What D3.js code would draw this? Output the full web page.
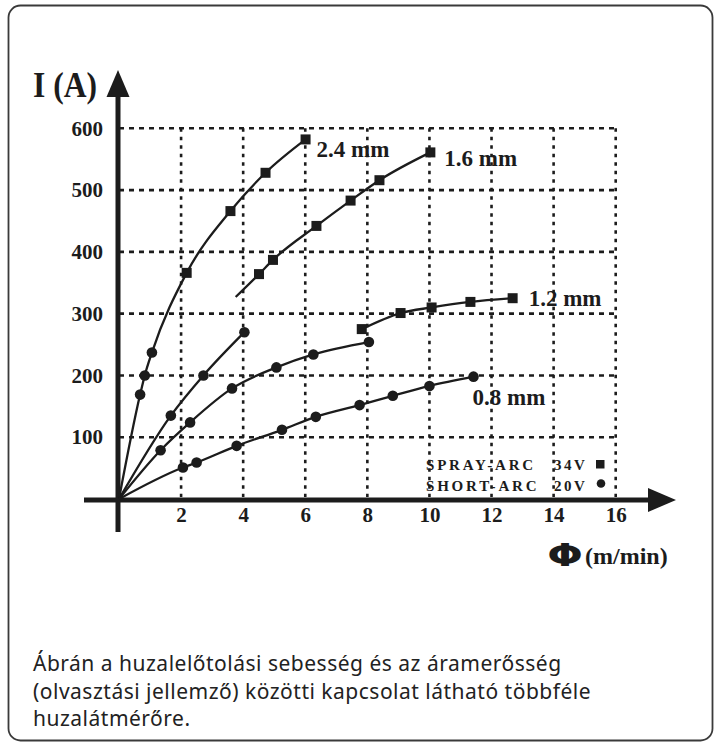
<!DOCTYPE html>
<html>
<head>
<meta charset="utf-8">
<script src="https://cdn.jsdelivr.net/npm/d3@7"></script>
<style>
  body { margin: 0; background: #fff; }
  svg { display: block; }
</style>
</head>
<body>
<svg id="chart" width="719" height="746"></svg>
<script>
// tick values
var xTicks = [2, 4, 6, 8, 10, 12, 14, 16];
var yTicks = [100, 200, 300, 400, 500, 600];

// wire feed speed (m/min), current (A)
// short-arc (20V) points = circles, spray-arc (34V) points = squares
var shortArc24 = [[0.68, 169], [0.83, 200], [1.06, 237]];
var sprayArc24 = [[2.18, 366], [3.59, 466], [4.72, 528], [6.01, 582]];

var shortArc16 = [[1.67, 135], [2.72, 200], [4.04, 270]];
var sprayStart16 = [3.76, 327];
var sprayArc16 = [[4.51, 364], [4.96, 387], [6.36, 442], [7.46, 483], [8.39, 516], [10.03, 561]];

var shortArc12 = [[1.34, 79], [2.29, 124], [3.64, 179], [5.07, 213], [6.26, 234], [8.05, 254]];
var sprayArc12 = [[7.82, 275], [9.07, 301], [10.07, 310], [11.32, 319], [12.68, 325]];

var shortArc08 = [[2.06, 51], [2.50, 59], [3.79, 86], [5.25, 112], [6.34, 133], [7.75, 152],
                  [8.82, 167], [10.0, 183], [11.42, 198]];

var origin = [0, 0];
var wireLabels = ["2.4 mm", "1.6 mm", "1.2 mm", "0.8 mm"];
var legendNames = ["SPRAY-ARC", "SHORT-ARC"];
var legendVolts = ["34V", "20V"];
var captionLines = [
  "Ábrán a huzalelőtolási sebesség és az áramerősség",
  "(olvasztási jellemző) közötti kapcsolat látható többféle",
  "huzalátmérőre."
];

var svg = d3.select("#chart");
var ink = "#1c1c1c";
var serif = "'Liberation Serif', 'DejaVu Serif', serif";

// card frame
svg.append("rect")
  .attr("x", 8.5).attr("y", 5.5)
  .attr("width", 704).attr("height", 735)
  .attr("rx", 12)
  .attr("fill", "#fff")
  .attr("stroke", "#3a3a3a")
  .attr("stroke-width", 1.8);

var x = d3.scaleLinear().domain([0, 16]).range([119, 615.7]);
var y = d3.scaleLinear().domain([0, 600]).range([499, 128.3]);

// grid
var grid = svg.append("g");
grid.selectAll("line.h")
  .data(yTicks)
  .enter().append("line")
    .attr("x1", x(0)).attr("x2", x(16))
    .attr("y1", d => y(d)).attr("y2", d => y(d))
    .attr("stroke", ink)
    .attr("stroke-width", 2.6)
    .attr("stroke-dasharray", "5,5");
grid.selectAll("line.v")
  .data(xTicks)
  .enter().append("line")
    .attr("x1", d => x(d)).attr("x2", d => x(d))
    .attr("y1", y(600)).attr("y2", 497)
    .attr("stroke", ink)
    .attr("stroke-width", 2.6)
    .attr("stroke-dasharray", "3.5,5");

// axes with arrows
svg.append("line")
  .attr("x1", 84).attr("x2", 652)
  .attr("y1", 500).attr("y2", 500)
  .attr("stroke", ink).attr("stroke-width", 5);
svg.append("path")
  .attr("d", "M648,488 L676,500 L648,512 Z")
  .attr("fill", ink);
svg.append("line")
  .attr("x1", 118).attr("x2", 118)
  .attr("y1", 532).attr("y2", 94)
  .attr("stroke", ink).attr("stroke-width", 5);
svg.append("path")
  .attr("d", "M106.5,97 L118,70 L129.5,97 Z")
  .attr("fill", ink);

// tick labels through d3 axes
var xAxis = svg.append("g")
  .attr("transform", "translate(0,500)")
  .call(d3.axisBottom(x).tickValues(xTicks).tickSize(0).tickPadding(7));
var yAxis = svg.append("g")
  .attr("transform", "translate(118,0)")
  .call(d3.axisLeft(y).tickValues(yTicks).tickSize(0).tickPadding(15));
[xAxis, yAxis].forEach(function(g) {
  g.select(".domain").remove();
  g.selectAll("text")
    .attr("fill", ink)
    .style("font-family", serif)
    .style("font-weight", "bold")
    .style("font-size", "21px");
});

// axis titles
svg.append("text")
  .attr("x", 33).attr("y", 97)
  .attr("textLength", 64).attr("lengthAdjust", "spacingAndGlyphs")
  .style("font-family", serif).style("font-weight", "bold").style("font-size", "36px")
  .attr("fill", ink)
  .text("I (A)");

svg.append("text")
  .attr("transform", "translate(565,566) scale(1.35,1)")
  .attr("text-anchor", "middle")
  .style("font-family", "'DejaVu Sans', sans-serif").style("font-weight", "bold").style("font-size", "31px")
  .attr("fill", ink)
  .text("Φ");
svg.append("text")
  .attr("x", 585).attr("y", 564)
  .style("font-family", serif).style("font-weight", "bold").style("font-size", "24px")
  .attr("fill", ink)
  .text("(m/min)");

// curves
var line = d3.line()
  .x(d => x(d[0]))
  .y(d => y(d[1]))
  .curve(d3.curveMonotoneX);

var curves = [
  [origin].concat(shortArc24, sprayArc24),
  [origin].concat(shortArc16),
  [sprayStart16].concat(sprayArc16),
  [origin].concat(shortArc12),
  sprayArc12,
  [origin].concat(shortArc08)
];
svg.append("g").selectAll("path")
  .data(curves)
  .enter().append("path")
    .attr("d", line)
    .attr("fill", "none")
    .attr("stroke", ink)
    .attr("stroke-width", 2.3);

// markers
var squares = [].concat(sprayArc24, sprayArc16, sprayArc12);
var circles = [].concat(shortArc24, shortArc16, shortArc12, shortArc08);
svg.append("g").selectAll("rect")
  .data(squares)
  .enter().append("rect")
    .attr("x", d => x(d[0]) - 5)
    .attr("y", d => y(d[1]) - 5)
    .attr("width", 10).attr("height", 10)
    .attr("fill", ink);
svg.append("g").selectAll("circle")
  .data(circles)
  .enter().append("circle")
    .attr("cx", d => x(d[0]))
    .attr("cy", d => y(d[1]))
    .attr("r", 5.3)
    .attr("fill", ink);

// wire size labels next to the last point of each curve
var labelAnchors = [
  { p: sprayArc24[sprayArc24.length - 1], dx: 11, dy: 18 },
  { p: sprayArc16[sprayArc16.length - 1], dx: 14, dy: 14 },
  { p: sprayArc12[sprayArc12.length - 1], dx: 16, dy: 8 },
  { p: shortArc08[shortArc08.length - 1], dx: -1, dy: 28 }
];
svg.append("g").selectAll("text")
  .data(labelAnchors)
  .enter().append("text")
    .attr("x", d => x(d.p[0]) + d.dx)
    .attr("y", d => y(d.p[1]) + d.dy)
    .style("font-family", serif).style("font-weight", "bold").style("font-size", "23px")
    .attr("fill", ink)
    .text((d, i) => wireLabels[i]);

// legend
var legend = svg.append("g");
legendNames.forEach(function(name, i) {
  var by = 470 + i * 21;
  legend.append("text")
    .attr("x", 426).attr("y", by)
    .style("font-family", serif).style("font-weight", "bold").style("font-size", "15px")
    .style("letter-spacing", "2.8px")
    .attr("fill", ink)
    .text(name);
  legend.append("text")
    .attr("x", 554).attr("y", by)
    .style("font-family", serif).style("font-weight", "bold").style("font-size", "15px")
    .style("letter-spacing", "2.5px")
    .attr("fill", ink)
    .text(legendVolts[i]);
});
legend.append("rect")
  .attr("x", 596).attr("y", 460).attr("width", 8.5).attr("height", 8.5)
  .attr("fill", ink);
legend.append("circle")
  .attr("cx", 601).attr("cy", 483.5).attr("r", 4.3)
  .attr("fill", ink);

// caption
svg.append("g").selectAll("text")
  .data(captionLines)
  .enter().append("text")
    .attr("x", 33)
    .attr("y", (d, i) => 671 + i * 27.5)
    .style("font-family", "'Noto Sans', sans-serif")
    .style("font-size", "21px")
    .style("letter-spacing", "0.5px")
    .attr("fill", "#222")
    .text(d => d);
</script>
</body>
</html>
